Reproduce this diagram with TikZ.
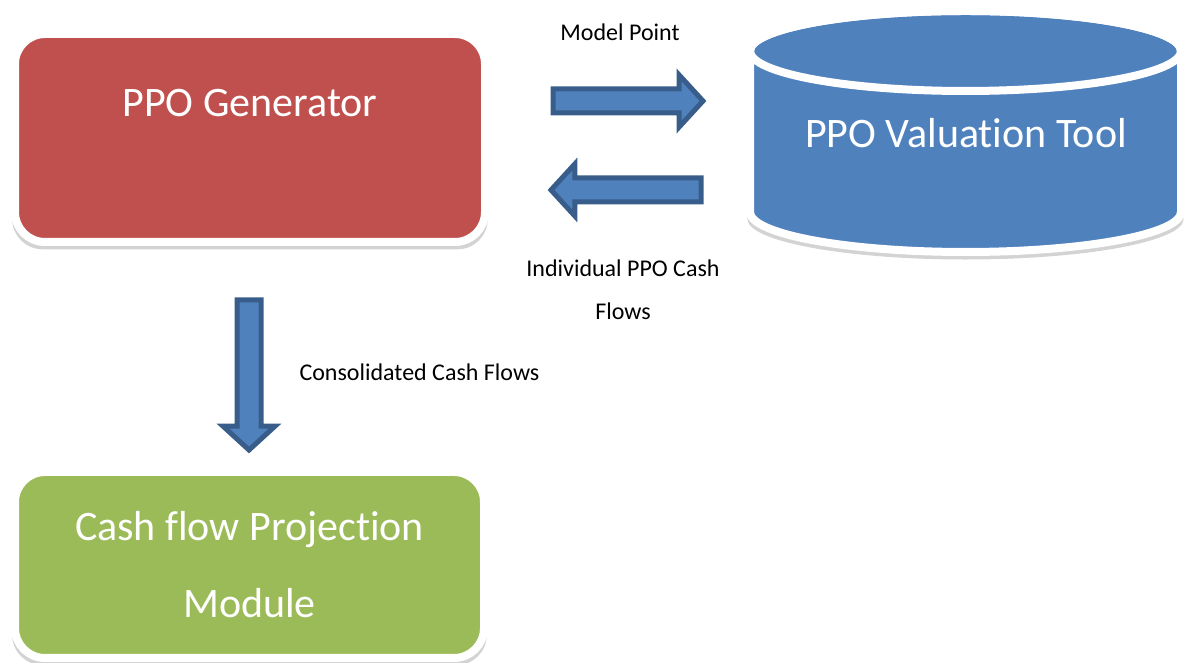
\documentclass[tikz,border=0pt]{standalone}
\usepackage{fontspec}
\setmainfont{Carlito}[Ligatures={NoCommon}]
\usetikzlibrary{shapes.arrows,shadows,positioning}
\definecolor{genred}{RGB}{192,80,77}
\definecolor{toolblue}{RGB}{79,129,189}
\definecolor{modgreen}{RGB}{155,187,89}
\definecolor{arrowedge}{RGB}{56,93,138}

\begin{document}
\begin{tikzpicture}[x=1pt,y=1pt,
  boxshadow/.style={drop shadow={shadow xshift=0pt,shadow yshift=-6pt,shadow scale=1.012,opacity=0.35}},
  boxshape/.style={rounded corners=30pt,draw=white,line width=8pt,boxshadow},
  bigtext/.style={text=white,font=\fontsize{42}{77}\selectfont,align=center},
  smalltext/.style={font=\fontsize{24}{43}\selectfont,align=center},
  flowarrow/.style={single arrow,fill=toolblue,draw=arrowedge,line width=5pt,
    inner sep=9.5pt,minimum height=150pt,minimum width=47pt,
    single arrow head extend=14pt,single arrow tip angle=95}]
\useasboundingbox (0,0) rectangle (1187,663);
% Generator box
\node[boxshape,fill=genred,minimum width=470pt,minimum height=208pt] (gen) at (250,525) {};
\node[bigtext] (genlabel) at (250,560) {PPO Generator};
% Projection module box
\node[boxshape,fill=modgreen,minimum width=469pt,minimum height=186pt,bigtext] (cfp) at (249.5,98) {Cash f\kern0pt low Projection\\Module};
% Valuation tool cylinder
\path[fill=toolblue,draw=white,line width=8pt,boxshadow]
  (750,612) -- (750,451) arc[start angle=180,end angle=360,x radius=215.5,y radius=40]
  -- (1181,612) arc[start angle=0,end angle=180,x radius=215.5,y radius=40] -- cycle;
\draw[white,line width=8pt] (965.5,612) ellipse[x radius=215.5,y radius=40];
\node[bigtext] (valtool) at (966,530) {PPO Valuation Tool};
% Block arrows
\node[flowarrow,anchor=tail] (mp) at (550.5,562) {};
\node[flowarrow,shape border rotate=180,anchor=tail] (cf) at (703.5,473) {};
\node[flowarrow,shape border rotate=270,anchor=tail] (cc) at (249,365.5) {};
% Labels
\node[smalltext] (mplabel) at (620,631) {Model Point};
\node[smalltext] (cflabel) at (623,373.5) {Individual PPO Cash\\Flows};
\node[smalltext,anchor=west] (cclabel) at (296,291) {Consolidated Cash Flows};
\end{tikzpicture}
\end{document}
